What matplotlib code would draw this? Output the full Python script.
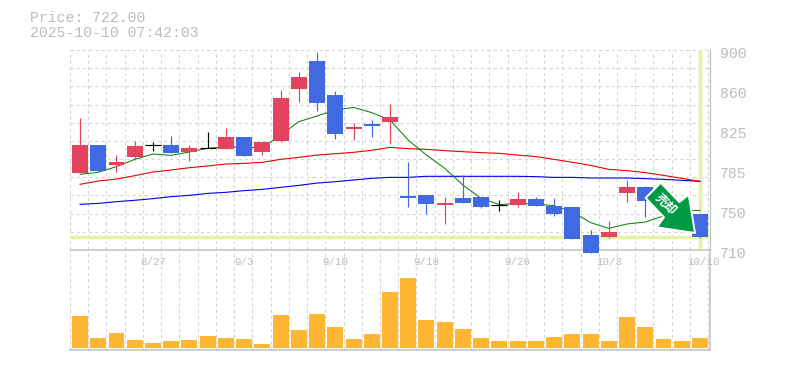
import matplotlib
matplotlib.use('Agg')
import matplotlib.pyplot as plt
from matplotlib.patches import Polygon
from matplotlib.transforms import IdentityTransform
from matplotlib.transforms import ScaledTranslation
import numpy as np

# OHLC
opens = [783.1, 809.8, 790.7, 798.3, 809.8, 809.8, 803.1, 806.6, 805.9, 817.3, 803.1, 813.5,
         863.0, 889.5, 857.2, 824.9, 829.7, 831.6, 761.3, 762.3, 752.7, 759.4, 760.3, 752.7,
         752.7, 758.4, 751.8, 750.8, 724.2, 722.3, 764.1, 769.8, 755.0, 750.0, 744.2]
highs = [835.4, 809.8, 800.2, 813.5, 812.6, 818.3, 809.8, 822.1, 825.9, 817.3, 812.6, 862.0,
         879.1, 898.1, 861.0, 830.6, 833.5, 848.7, 793.6, 762.3, 760.3, 781.2, 760.3, 757.5,
         765.1, 760.3, 759.4, 750.8, 729.0, 737.5, 776.5, 770.8, 757.0, 752.0, 744.2]
lows = [783.1, 785.0, 784.1, 795.5, 804.0, 802.1, 794.5, 806.6, 805.9, 799.3, 800.2, 812.6,
        850.6, 842.0, 815.4, 814.5, 817.3, 810.7, 751.2, 744.2, 734.7, 754.6, 749.9, 747.0,
        750.8, 751.8, 742.3, 720.4, 707.1, 721.4, 755.6, 741.3, 745.0, 742.0, 721.0]
closes = [809.8, 785.0, 793.6, 808.8, 809.8, 802.1, 806.9, 806.6, 817.3, 799.3, 812.6, 854.4,
          874.3, 849.6, 820.2, 826.8, 827.8, 836.3, 759.4, 753.7, 754.6, 754.6, 750.8, 752.7,
          758.4, 751.8, 744.2, 720.4, 707.1, 727.1, 769.8, 756.5, 748.0, 745.0, 722.0]

ma_short = [781.9, 783.8, 789.2, 796.1, 801.2, 799.9, 803.1, 806.6, 808.2, 807.5, 807.2, 819.2,
            831.9, 837.3, 843.0, 845.5, 840.5, 833.5, 814.5, 800.2, 787.6, 771.7, 759.1, 753.1,
            754.3, 753.7, 752.1, 746.4, 736.0, 730.6, 734.7, 736.6, 742.3, 747.4, 747.7]
ma_mid = [772.4, 775.5, 777.4, 780.6, 784.1, 786.0, 788.2, 789.8, 791.7, 792.3, 793.3, 796.1,
          798.0, 800.2, 801.5, 802.8, 804.7, 807.5, 806.3, 805.6, 804.4, 803.4, 802.5, 801.8,
          800.2, 798.7, 796.1, 793.3, 790.4, 786.6, 785.4, 783.5, 780.9, 778.1, 775.2]
ma_long = [753.4, 754.3, 755.9, 757.2, 758.8, 760.7, 761.9, 763.8, 764.8, 766.4, 767.6, 769.5,
           771.4, 773.6, 774.9, 776.5, 778.1, 779.0, 779.0, 780.0, 780.0, 780.0, 780.0, 780.0,
           780.0, 779.7, 779.0, 779.0, 778.4, 778.4, 778.4, 777.8, 777.1, 776.2, 775.2]

volumes = [33, 10, 15, 8, 5, 7, 8, 12, 10, 9, 4, 34, 18, 35, 21, 9, 14, 57, 71, 29, 27, 19,
           10, 7, 7, 7, 11, 14, 14, 7, 32, 21, 9, 7, 10]

date_pos = [4, 9, 14, 19, 24, 29, 34]
date_labels = ['8/27', '9/3', '9/10', '9/18', '9/26', '10/3', '10/10']
price_ticks = [710, 748, 786, 824, 862, 900]
price_labels = ['710', '750', '785', '825', '860', '900']
last_price = 722

RED = '#e2435f'
BLUE = '#4169e1'
ORANGE = '#ffb733'
GRID = '#d4d4d4'
EDGE = '#c0c0c0'
TXT = '#bcbcbc'
HILITE = '#e2f5a0'
MONO = 'Liberation Mono'
DASH = (0, (2.8, 2.8))

W, H = 785, 370
fig = plt.figure(figsize=(W / 100, H / 100), dpi=100)
axv = fig.add_axes([70 / W, 1 - 350 / H, 640 / W, 100 / H])
ax = fig.add_axes([70 / W, 1 - 250 / H, 640 / W, 200 / H])
ax.patch.set_visible(False)
ax.set_zorder(2)

xs = np.arange(len(closes))
XLIM = (-0.55, 34.55)
edges = np.arange(36) - 0.55

for a in (ax, axv):
    a.set_xlim(XLIM)
    a.vlines(edges, 0, 1, transform=a.get_xaxis_transform(), color=GRID, lw=0.8,
             linestyles=DASH, zorder=0)
    for s in a.spines.values():
        s.set_visible(False)
    a.tick_params(length=0)
    a.set_xticks([])
    a.set_yticks([])

# price panel
ax.set_ylim(710, 900)
ax.hlines(np.linspace(710, 900, 12), 0, 1, transform=ax.get_yaxis_transform(), color=GRID, lw=0.8,
          linestyles=DASH, zorder=0)
ax.axhline(last_price, color=HILITE, lw=2.5, zorder=1)
ax.plot([xs[-1], xs[-1]], [900, 711], color=HILITE, lw=2.5, zorder=1, solid_capstyle='butt')

ax.plot(xs, ma_long, color='#0000ee', lw=0.8, zorder=2)
ax.plot(xs, ma_mid, color='#ee0000', lw=0.8, zorder=2)
ax.plot(xs, ma_short, color='#007a00', lw=0.7, zorder=2)

for x, o, h, l, c in zip(xs, opens, highs, lows, closes):
    col = 'black' if o == c else (RED if c > o else BLUE)
    ax.vlines(x, l, h, color=col, lw=0.85, zorder=3, clip_on=False)
    if o == c:
        ax.hlines(o, x - 0.44, x + 0.44, color=col, lw=0.85, zorder=3)
    else:
        ax.bar(x, abs(c - o), 0.877, bottom=min(o, c), color=col, zorder=3, clip_on=False)

ax.set_yticks(price_ticks, price_labels)
ax.tick_params(axis='y', left=False, right=False, labelleft=False, labelright=True, pad=7,
               labelsize=10.6, labelcolor=TXT)
for t in ax.get_yticklabels():
    t.set_family(MONO)
    t.set_transform(t.get_transform() + ScaledTranslation(0, -3 / 100, fig.dpi_scale_trans))

# volume panel
axv.set_ylim(-2, 100)
axv.bar(xs, volumes, 0.877, color=ORANGE, zorder=2)
axv.set_xticks(date_pos, date_labels)
axv.xaxis.set_ticks_position('top')
axv.tick_params(axis='x', top=False, labeltop=True, labelbottom=False, direction='in', pad=-12,
                labelsize=7.8, labelcolor=TXT)
for t in axv.get_xticklabels():
    t.set_family(MONO)
# 10/10 sits a little right of its candle
last_lbl = axv.get_xticklabels()[-1]
last_lbl.set_transform(last_lbl.get_transform() + ScaledTranslation(4 / 100, 0, fig.dpi_scale_trans))
for k in ('top', 'bottom', 'right'):
    axv.spines[k].set_visible(True)
    axv.spines[k].set_color(EDGE)
    axv.spines[k].set_linewidth(1.1)
ax.spines['right'].set_visible(True)
ax.spines['right'].set_color(EDGE)
ax.spines['right'].set_linewidth(0.9)

# signal arrow, pixel coords from the top left of the picture
arrow_px = [(660.7, 182.7), (645.7, 198), (664, 217.3), (656.7, 227.3), (695, 233),
            (688.7, 194.7), (679.3, 202)]
arrow = Polygon([(x, H - y) for x, y in arrow_px], closed=True, facecolor='#009944',
                edgecolor='white', lw=1.4, transform=IdentityTransform(), zorder=6,
                joinstyle='round', clip_on=False)
fig.add_artist(arrow)
fig.text(666 / W, 1 - 204.5 / H, '売却', color='white', fontsize=8.8, fontweight='bold',
         family=['Noto Sans CJK JP', 'DejaVu Sans'], rotation=-45, rotation_mode='anchor',
         ha='center', va='center', zorder=7)

fig.text(30 / W, 1 - 17.5 / H, 'Price: 722.00', color=TXT, family=MONO, fontsize=10.6, va='center')
fig.text(30 / W, 1 - 33 / H, '2025-10-10 07:42:03', color=TXT, family=MONO, fontsize=10.6, va='center')

fig.savefig('out.png', dpi=100)
